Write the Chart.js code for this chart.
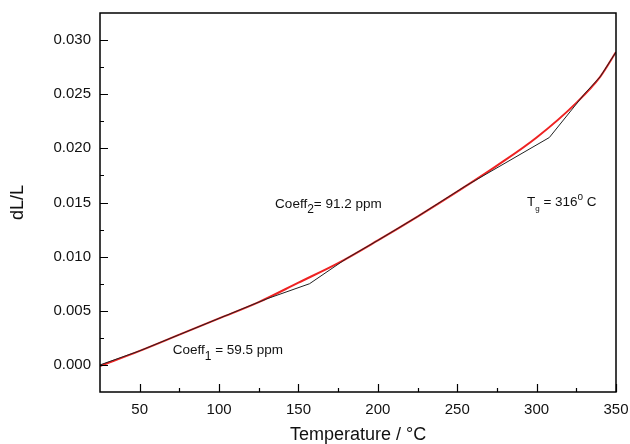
<!DOCTYPE html>
<html>
<head>
<meta charset="utf-8">
<script src="https://cdn.jsdelivr.net/npm/chart.js@4.4.1/dist/chart.umd.min.js"></script>
<style>
  html, body { margin: 0; padding: 0; background: #fff; }
</style>
</head>
<body>
<canvas id="chart" width="630" height="444"></canvas>
<script>
// fitted curve (red)
const fitTemps = [25, 50, 75, 100, 125, 150, 175, 200, 225, 250, 275, 300, 325, 340, 350];
const fitValues = [-0.0001, 0.0013, 0.0028, 0.0043, 0.0058, 0.0076, 0.0094, 0.0115, 0.0137, 0.0160, 0.0184, 0.0210, 0.0242, 0.0266, 0.0289];

// measured curve with tangent construction (black)
const dataTemps = [25, 50, 75, 100, 130, 157, 180, 200, 225, 255, 308, 330, 340, 350];
const dataValues = [0, 0.0013, 0.0028, 0.0043, 0.0061, 0.0075, 0.0098, 0.0115, 0.0137, 0.0165, 0.0210, 0.0250, 0.0266, 0.0289];

const xMajor = [50, 100, 150, 200, 250, 300, 350];
const xMinor = [75, 125, 175, 225, 275, 325];
const yMajor = [0, 0.005, 0.010, 0.015, 0.020, 0.025, 0.030];
const yMinor = [0.0025, 0.0075, 0.0125, 0.0175, 0.0225, 0.0275];

const FONT = '"Liberation Sans", Arial, sans-serif';

function toPoints(xs, ys) {
  return xs.map((x, i) => ({ x, y: ys[i] }));
}

function drawParts(ctx, x, y, parts) {
  parts.forEach(([text, size, dy]) => {
    ctx.font = `${size}px ${FONT}`;
    ctx.fillText(text, x, y + dy);
    x += ctx.measureText(text).width;
  });
}

function noEdgePadding(scale) {
  scale.paddingTop = 0;
  scale.paddingBottom = 0;
  scale.paddingLeft = 0;
  scale.paddingRight = 0;
}

const framePlugin = {
  id: "frame",
  afterDraw(chart) {
    const { ctx, chartArea: a, scales: { x, y } } = chart;
    ctx.save();
    ctx.strokeStyle = "#000";
    ctx.lineWidth = 1.5;
    ctx.strokeRect(a.left, a.top, a.right - a.left, a.bottom - a.top);

    ctx.lineWidth = 1.2;
    ctx.beginPath();
    xMajor.forEach((v) => {
      const px = Math.round(x.getPixelForValue(v)) + 0.5;
      ctx.moveTo(px, a.bottom);
      ctx.lineTo(px, a.bottom - 8);
    });
    xMinor.forEach((v) => {
      const px = Math.round(x.getPixelForValue(v)) + 0.5;
      ctx.moveTo(px, a.bottom);
      ctx.lineTo(px, a.bottom - 4);
    });
    yMajor.forEach((v) => {
      const py = Math.round(y.getPixelForValue(v)) + 0.5;
      ctx.moveTo(a.left, py);
      ctx.lineTo(a.left + 8, py);
    });
    yMinor.forEach((v) => {
      const py = Math.round(y.getPixelForValue(v)) + 0.5;
      ctx.moveTo(a.left, py);
      ctx.lineTo(a.left + 4, py);
    });
    ctx.stroke();

    // annotations
    ctx.fillStyle = "#111";
    ctx.textBaseline = "alphabetic";
    drawParts(ctx, x.getPixelForValue(70.8), y.getPixelForValue(0.00097), [
      ["Coeff", 13.5, 0], ["1", 12, 6], [" = 59.5 ppm", 13.5, 0],
    ]);
    drawParts(ctx, x.getPixelForValue(135.3), y.getPixelForValue(0.01449), [
      ["Coeff", 13.5, 0], ["2", 12, 5], ["= 91.2 ppm", 13.5, 0],
    ]);
    drawParts(ctx, x.getPixelForValue(293.9), y.getPixelForValue(0.01468), [
      ["T", 13.5, 0], ["g", 8, 5], [" = 316", 13.5, 0], ["o", 10, -6], [" C", 13.5, 0],
    ]);
    ctx.restore();
  },
};

new Chart(document.getElementById("chart"), {
  type: "scatter",
  data: {
    datasets: [
      {
        label: "Measured",
        data: toPoints(dataTemps, dataValues),
        showLine: true,
        borderColor: "#222",
        borderWidth: 1,
        pointRadius: 0,
        tension: 0,
      },
      {
        label: "Fit",
        data: toPoints(fitTemps, fitValues),
        showLine: true,
        borderColor: "#ee2222",
        borderWidth: 2,
        pointRadius: 0,
        cubicInterpolationMode: "monotone",
      },
    ],
  },
  options: {
    responsive: false,
    animation: false,
    devicePixelRatio: 1,
    layout: { padding: { top: 13, right: 14, left: 0, bottom: 0 } },
    plugins: { legend: { display: false }, tooltip: { enabled: false } },
    scales: {
      x: {
        type: "linear",
        min: 25,
        max: 350,
        afterBuildTicks: (scale) => { scale.ticks = xMajor.map((value) => ({ value })); },
        afterFit: (scale) => { scale.height = 52; noEdgePadding(scale); },
        grid: { display: false, drawTicks: false },
        border: { display: false },
        ticks: { color: "#111", padding: 9, font: { family: FONT, size: 15 }, maxRotation: 0 },
        title: {
          display: true,
          text: "Temperature / °C",
          color: "#111",
          font: { family: FONT, size: 18, lineHeight: 1 },
          padding: { top: 0, bottom: 0 },
        },
      },
      y: {
        min: -0.0025,
        max: 0.0325,
        afterBuildTicks: (scale) => { scale.ticks = yMajor.map((value) => ({ value })); },
        afterFit: (scale) => { scale.width = 100; noEdgePadding(scale); },
        grid: { display: false, drawTicks: false },
        border: { display: false },
        ticks: {
          color: "#111",
          padding: 9,
          font: { family: FONT, size: 15 },
          callback: (v) => v.toFixed(3),
        },
        title: {
          display: true,
          text: "dL/L",
          color: "#111",
          font: { family: FONT, size: 18, lineHeight: 1 },
          padding: { top: 9, bottom: 0 },
        },
      },
    },
  },
  plugins: [framePlugin],
});
</script>
</body>
</html>
